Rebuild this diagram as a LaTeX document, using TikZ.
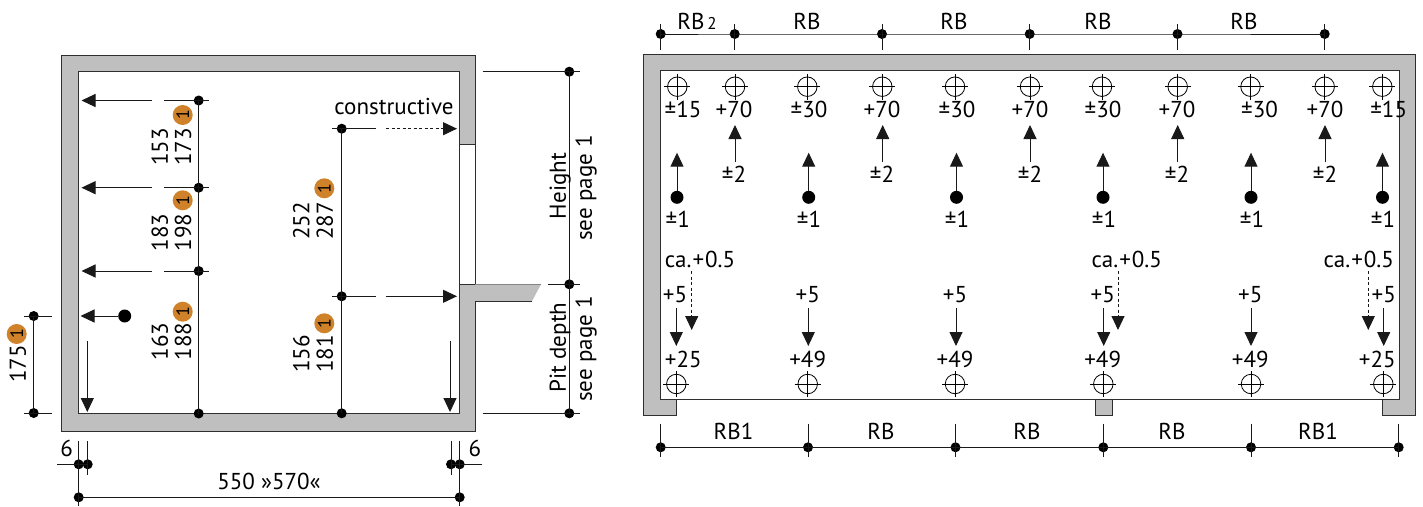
\documentclass[tikz,border=0pt]{standalone}
\usepackage{fontspec}
\setmainfont{PT Sans}
\usetikzlibrary{arrows.meta}
\definecolor{wallgray}{HTML}{BFBFBF}
\definecolor{wallline}{HTML}{2E2E2E}
\definecolor{badgeor}{HTML}{D0822A}
\tikzset{
  lab/.style={inner sep=0pt,outer sep=0pt,text height=15.5pt,text depth=0pt,font=\fontsize{23}{23}\selectfont},
  vlab/.style={lab,rotate=90},
  bigdot/.style={circle,fill=black,inner sep=0pt,minimum size=13pt},
  dimdot/.style={circle,fill=black,inner sep=0pt,minimum size=10pt},
  thin line/.style={line width=1pt,draw=black!90},
  arr/.style={thin line,-{Triangle[length=14pt,width=13pt]}},
  darr/.style={arr,dash pattern=on 3pt off 2.5pt},
  wall/.style={fill=wallgray,draw=none},
  wallstroke/.style={line width=1pt,draw=wallline},
  badge/.style={circle,fill=badgeor,inner sep=0pt,minimum size=20pt,text=black,rotate=90,font=\fontsize{18}{18}\selectfont},
  targetc/.style={circle,draw=black,line width=0.8pt,inner sep=0pt,minimum size=19.5pt}
}
\newcommand{\tgt}[3]{\node[targetc] (#1) at (#2,#3) {};
  \draw[line width=0.6pt] ([xshift=-13pt]#1.center) -- ([xshift=13pt]#1.center);
  \draw[line width=0.6pt] ([yshift=-13pt]#1.center) -- ([yshift=13pt]#1.center);}
\begin{document}
\begin{tikzpicture}[x=1pt,y=-1pt]
\useasboundingbox (0,0) rectangle (1423,506);
% ---- left: walls
\fill[wall] (61.5,55.7) -- (475,55.7) -- (475,144) -- (459.7,144) -- (459.7,71.7) -- (78.7,71.7) -- (78.7,413.3) -- (459.7,413.3) -- (459.7,284.3) -- (541,284.3) -- (531.7,301.7) -- (475,301.7) -- (475,431.7) -- (61.5,431.7) -- cycle;
\draw[wallstroke] (531.7,301.7) -- (475,301.7) -- (475,431.7) -- (61.5,431.7) -- (61.5,55.7) -- (475,55.7) -- (475,144) -- (459.7,144) -- (459.7,71.7) -- (78.7,71.7) -- (78.7,413.3) -- (459.7,413.3) -- (459.7,284.3) -- (475,284.3);
\draw[wallstroke] (475,144) -- (475,284.3) (459.7,144) -- (459.7,284.3);
\draw[line width=1pt,draw=wallgray!70!black] (475,284.3) -- (541,284.3);
% ---- left: storey verticals
\node[dimdot] (a1) at (198.7,100.5) {};
\node[dimdot] (a2) at (198.7,187.7) {};
\node[dimdot] (a3) at (198.7,271) {};
\node[dimdot] (a4) at (198.7,413.5) {};
\draw[thin line] (a1.center) -- (a2.center) -- (a3.center) -- (a4.center);
\foreach \n/\yy in {1/100.5,2/187.7,3/271}{
  \coordinate (al\n) at (164.3,\yy); \coordinate (ar\n) at (208.5,\yy);
  \coordinate (as\n) at (152,\yy); \coordinate (at\n) at (81.5,\yy);
  \draw[thin line] (al\n) -- (ar\n);
  \draw[arr] (as\n) -- (at\n);
}
\node[bigdot] (p1) at (124.7,316) {};
\coordinate (p1t) at (80.5,316);
\draw[arr] (p1) -- (p1t);
\coordinate (d1s) at (87.3,341); \coordinate (d1t) at (87.3,412);
\draw[arr] (d1s) -- (d1t);
% second vertical
\node[dimdot] (b1) at (341.7,128.7) {};
\node[dimdot] (b2) at (341.7,296.3) {};
\node[dimdot] (b3) at (341.7,413.3) {};
\draw[thin line] (b1.center) -- (b2.center) -- (b3.center);
\foreach \n/\yy in {1/128.7,2/296.3}{
  \coordinate (bl\n) at (332,\yy); \coordinate (br\n) at (376,\yy);
  \draw[thin line] (bl\n) -- (br\n);
  \coordinate (bs\n) at (386,\yy); \coordinate (bt\n) at (457,\yy);
}
\draw[darr] (bs1) -- (bt1);
\draw[arr] (bs2) -- (bt2);
\coordinate (d2s) at (450,341); \coordinate (d2t) at (450,412);
\draw[arr] (d2s) -- (d2t);
\node[lab] (tc) at (394,107) {constructive};
% height dims
\node[dimdot] (h1) at (569.3,71.7) {};
\node[dimdot] (h2) at (569.3,284.3) {};
\node[dimdot] (h3) at (569.3,413.3) {};
\draw[thin line] (h1.center) -- (h2.center) -- (h3.center);
\coordinate (h1a) at (482.5,71.7); \coordinate (h1b) at (580,71.7);
\coordinate (h2a) at (547.7,284.3); \coordinate (h2b) at (580,284.3);
\coordinate (h3a) at (482.7,413.3); \coordinate (h3b) at (580,413.3);
\draw[thin line] (h1a) -- (h1b) (h2a) -- (h2b) (h3a) -- (h3b);
\node[vlab] (th) at (558,186) {Height};
\node[vlab] (ts1) at (584,188) {see page 1};
\node[vlab] (tp) at (558,347.5) {Pit depth};
\node[vlab] (ts2) at (584,349) {see page 1};
% 175 dim
\node[dimdot] (c1) at (33.7,316) {};
\node[dimdot] (c2) at (33.7,413) {};
\coordinate (c1a) at (24,316); \coordinate (c1b) at (52,316);
\coordinate (c2a) at (24,413); \coordinate (c2b) at (52,413);
\draw[thin line] (c1.center) -- (c2.center) (c1a) -- (c1b) (c2a) -- (c2b);
\node[vlab] (t175) at (18,364) {175};
% bottom dims
\node[dimdot] (e1) at (78.7,464.3) {};
\node[dimdot] (e2) at (87.7,464.3) {};
\node[dimdot] (e3) at (451,464.3) {};
\node[dimdot] (e4) at (459.7,464.3) {};
\node[dimdot] (f1) at (78.7,497.3) {};
\node[dimdot] (f2) at (459.7,497.3) {};
\coordinate (e0) at (57.3,464.3); \coordinate (e5) at (481.7,464.3);
\coordinate (u1) at (78.7,441); \coordinate (u2) at (87.7,441); \coordinate (u3) at (451,441); \coordinate (u4) at (459.7,441);
\coordinate (v1) at (78.7,506); \coordinate (v2) at (87.7,475); \coordinate (v3) at (451,475); \coordinate (v4) at (459.7,506);
\draw[thin line] (e0) -- (e2.center) (e3.center) -- (e5) (u1) -- (v1) (u2) -- (v2) (u3) -- (v3) (u4) -- (v4) (f1.center) -- (f2.center);
\node[lab] (t6a) at (66.7,449) {6};
\node[lab] (t6b) at (475,449) {6};
\node[lab] (t550) at (269,482) {550 »570«};
% rotated numbers
\foreach \nm/\xx/\yy/\tx in {n1/160/147/153,n2/183.3/147/173,n3/160/232.7/183,n4/183.3/232.7/198,n5/160/341.7/163,n6/183.3/341.7/188,n7/301.7/221/252,n8/325/221/287,n9/301.7/354/156,n10/325/354/181}{
  \node[vlab] (\nm) at (\xx,\yy) {\tx};
}
\foreach \nm/\xx/\yy in {g1/182.7/115,g2/182.7/200.3,g3/182.7/311.7,g4/324.3/188.3,g5/324.3/323.3,g6/16.7/334}{
  \node[badge] (\nm) at (\xx,\yy) {1};
}
% ---- right: walls
\path[wall,draw=wallline,line width=1pt] (643.7,54) -- (1415.7,54) -- (1415.7,415.7) -- (1382.7,415.7) -- (1382.7,399) -- (1399,399) -- (1399,70.7) -- (660.7,70.7) -- (660.7,399) -- (676.7,399) -- (676.7,415.7) -- (643.7,415.7) -- cycle;
\draw[wallstroke] (660.7,399) -- (1399,399);
\draw[wallstroke,fill=wallgray] (1095,399) rectangle (1112.3,415.7);
% top dims
\foreach \n/\xx in {1/660.7,2/734.7,3/882,4/1029.7,5/1177.5,6/1324.7}{
  \node[dimdot] (tt\n) at (\xx,34) {};
  \coordinate (tu\n) at (\xx,24); \coordinate (tv\n) at (\xx,50);
  \draw[thin line] (tu\n) -- (tv\n);
}
\draw[thin line] (tt1.center) -- (tt2.center) -- (tt3.center) -- (tt4.center) -- (tt5.center) -- (tt6.center);
\node[lab] (rt1) at (697,22) {RB\hspace{3pt}{\fontsize{17}{17}\selectfont 2}};
\foreach \n/\xx in {2/807,3/954,4/1098,5/1244}{\node[lab] (rt\n) at (\xx,22) {RB};}
% bottom dims
\foreach \n/\xx in {1/660.7,2/808,3/955.5,4/1103.3,5/1251,6/1398.7}{
  \node[dimdot] (bb\n) at (\xx,447.3) {};
  \coordinate (bu\n) at (\xx,423.7); \coordinate (bv\n) at (\xx,456.7);
  \draw[thin line] (bu\n) -- (bv\n);
}
\draw[thin line] (bb1.center) -- (bb2.center) -- (bb3.center) -- (bb4.center) -- (bb5.center) -- (bb6.center);
\foreach \n/\xx/\tx in {1/733.5/RB1,2/881/RB,3/1027/RB,4/1172/RB,5/1318/RB1}{\node[lab] (rb\n) at (\xx,431.7) {\tx};}
% targets
\tgt{s1}{677.3}{86.7}\tgt{s2}{735}{86.7}\tgt{s3}{807.3}{86.7}\tgt{s4}{882.3}{86.7}\tgt{s5}{955}{86.7}\tgt{s6}{1030}{86.7}\tgt{s7}{1102}{86.7}\tgt{s8}{1177.7}{86.7}\tgt{s9}{1250.5}{86.7}\tgt{s10}{1324.7}{86.7}\tgt{s11}{1382.3}{86.7}
\tgt{q1}{676.3}{384}\tgt{q2}{807.7}{384}\tgt{q3}{955}{384}\tgt{q4}{1103.3}{384}\tgt{q5}{1251}{384}\tgt{q6}{1383.3}{384}
% top values
\foreach \n/\xx/\tx in {1/683/±15,2/734/+70,3/809/±30,4/882/+70,5/957/±30,6/1030/+70,7/1103/±30,8/1177/+70,9/1259.5/±30,10/1325/+70,11/1388.7/±15}{
  \node[lab] (sv\n) at (\xx,110) {\tx};
}
% +-1 arrows
\foreach \n/\xx/\tx in {1/677/677.7,2/808.7/809,3/956.5/957,4/1103/1104,5/1251/1252,6/1382.5/1383}{
  \node[bigdot] (m\n) at (\xx,197.3) {};
  \coordinate (mt\n) at (\xx,152.7);
  \draw[arr] (m\n) -- (mt\n);
  \node[lab] (mv\n) at (\tx,219.3) {±1};
}
% +-2 arrows
\foreach \n/\xx/\tx in {1/735/734,2/882.7/882,3/1030/1030,4/1177.7/1177,5/1325/1325}{
  \coordinate (ks\n) at (\xx,162.3); \coordinate (kt\n) at (\xx,125);
  \draw[arr] (ks\n) -- (kt\n);
  \node[lab] (kv\n) at (\tx,175) {±2};
}
% ca. +0.5
\foreach \n/\xx/\ax in {1/700/691.7,2/1126.7/1118,3/1358.7/1368.3}{
  \node[lab] (ca\n) at (\xx,259.3) {ca.\hspace{1pt}+\hspace{1pt}0.5};
  \coordinate (cs\n) at (\ax,271); \coordinate (ct\n) at (\ax,330);
  \draw[darr] (cs\n) -- (ct\n);
}
% +5 arrows
\foreach \n/\xx/\ax/\lx/\tx in {1/675/676.3/683.3/+25,2/807.7/808.3/807.7/+49,3/955/956/955/+49,4/1102.7/1103.7/1102.7/+49,5/1250.3/1251/1250.3/+49,6/1383.7/1383.7/1377.3/+25}{
  \node[lab] (fv\n) at (\xx,295) {+5};
  \coordinate (fs\n) at (\ax,308); \coordinate (ft\n) at (\ax,346);
  \draw[arr] (fs\n) -- (ft\n);
  \node[lab] (lv\n) at (\lx,360) {\tx};
}
\end{tikzpicture}
\end{document}
